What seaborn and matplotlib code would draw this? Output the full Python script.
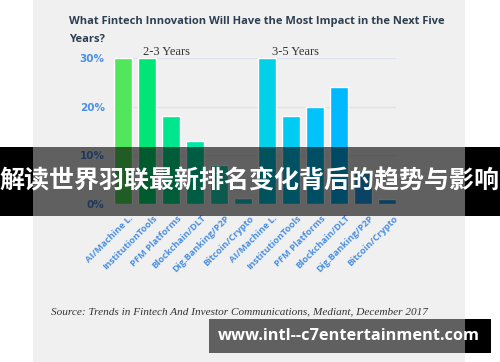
import matplotlib
matplotlib.use("Agg")
import matplotlib.pyplot as plt
import matplotlib.transforms as mtransforms
from matplotlib.patches import Rectangle
import seaborn as sns
import pandas as pd

# ---- data ----
categories = ["AI/Machine L.", "InstitutionTools", "PFM Platforms", "Blockchain/DLT",
              "Dig.Banking/P2P", "Bitcoin/Crypto",
              "AI/Machine L.", "InstitutionTools", "PFM Platforms", "Blockchain/DLT",
              "Dig.Banking/P2P", "Bitcoin/Crypto"]
values = [30, 30, 18, 13, 8, 1.2, 30, 18, 20, 24, 7, 1]
groups = ["2-3 Years", "3-5 Years"]
y_ticks = [0, 10, 20, 30]
y_tick_labels = ["0%", "10%", "20%", "30%"]
bar_colors = ["#52e65c", "#00e676", "#00e68f", "#00e6a8", "#1ee0c4", "#10d6d6",
              "#00d1e8", "#00cbf3", "#00c3fb", "#00b8fd", "#1ea8f5", "#1e9cf0"]
title = "What Fintech Innovation Will Have the Most Impact in the Next Five\nYears?"
source = "Source: Trends in Fintech And Investor Communications, Mediant, December 2017"
banner = "解读世界羽联最新排名变化背后的趋势与影响"
site = "www.intl--c7entertainment.com"

W, H = 500, 362
sns.set_theme(style="white")
plt.rcParams['font.family'] = ['DejaVu Sans']
fig = plt.figure(figsize=(W / 100, H / 100), dpi=100)
fig.patch.set_facecolor("white")

def px_rect(x0, y0, x1, y1, **kw):
    # pixel coords from top-left
    r = Rectangle((x0 / W, 1 - y1 / H), (x1 - x0) / W, (y1 - y0) / H,
                  transform=fig.transFigure, **kw)
    fig.patches.append(r)
    return r

# panel background
px_rect(33, 0, 465, H, facecolor="#f0f0f0", edgecolor="none", zorder=-5)

# axes
ax_left, ax_right, ax_top, ax_bottom = 113, 396, 58, 204
ax = fig.add_axes([ax_left / W, 1 - ax_bottom / H, (ax_right - ax_left) / W, (ax_bottom - ax_top) / H])
ax.set_facecolor("none")

df = pd.DataFrame({"slot": [str(i) for i in range(len(values))], "value": values})
sns.barplot(data=df, x="slot", y="value", hue="slot", palette=bar_colors, legend=False,
            width=0.75, saturation=1, ax=ax, zorder=3)
ax.set_xlim(-10 / 24, (ax_right - 123) / 24)
ax.set_ylim(0, 30)
ax.set_yticks(y_ticks)
ax.set_yticklabels(y_tick_labels)
ax.set_xlabel("")
ax.set_ylabel("")
for s in ax.spines.values():
    s.set_visible(False)
ax.grid(axis="y", color="#dde4ef", linewidth=1, zorder=0)
ax.tick_params(axis="both", length=0)
ax.tick_params(axis="y", pad=6, labelsize=7.5, labelcolor="#4a90e2")
for lab in ax.get_yticklabels():
    lab.set_fontweight("bold")
ax.set_xticks(range(len(categories)))
ax.set_xticklabels(categories, rotation=45, ha="right", va="center",
                   rotation_mode="anchor", fontsize=6.7, color="#4a90e2",
                   fontweight="bold", family="Open Sans")
offset = mtransforms.ScaledTranslation(9 / 100, -8 / 100, fig.dpi_scale_trans)
for lab in ax.get_xticklabels():
    lab.set_transform(lab.get_transform() + offset)

# group labels
for gx, g in zip([1.83, 7.17], groups):
    ax.text(gx, 31.2, g, ha="center", va="center", fontsize=9,
            family="Liberation Serif", color="#333333", clip_on=False)

# title
fig.text(69 / W, 1 - 16 / H, title, ha="left", va="top", fontsize=8, fontweight="bold",
         color="#2d3e50", linespacing=1.9, family="Open Sans")

# source
fig.text(51 / W, 1 - 312 / H, source, ha="left", va="center", fontsize=8.15,
         style="italic", family="Liberation Serif", color="#333333")

# overlay banner
px_rect(0, 147, 33, 216, facecolor="black", edgecolor="none", zorder=20)
px_rect(465, 147, 500, 216, facecolor="black", edgecolor="none", zorder=20)
px_rect(33, 147, 465, 216, facecolor="black", alpha=0.6, edgecolor="none", zorder=20)
fig.text(0.5, 1 - 181 / H, banner, ha="center", va="center", fontsize=18,
         fontweight="bold", color="white", family=["Noto Sans CJK SC", "DejaVu Sans"], zorder=30)

# site banner
px_rect(209, 319, 465, 353, facecolor="black", alpha=0.6, edgecolor="none", zorder=20)
px_rect(465, 319, 491, 353, facecolor="black", edgecolor="none", zorder=20)
fig.text(349 / W, 1 - 336 / H, site, ha="center", va="center", fontsize=11.8,
         fontweight="bold", color="white", family="Open Sans", zorder=30)

fig.savefig("out.png", dpi=100)
